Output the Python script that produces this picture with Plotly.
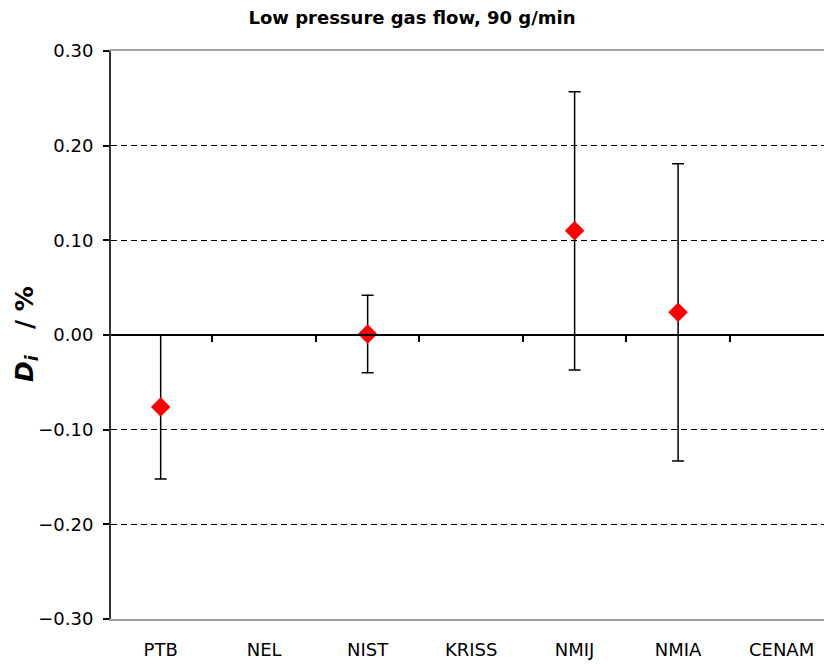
import plotly.graph_objects as go

labels = ["PTB", "NEL", "NIST", "KRISS", "NMIJ", "NMIA", "CENAM"]
di_values = [-0.076, None, 0.001, None, 0.110, 0.024, None]
uncertainty = [0.076, None, 0.041, None, 0.147, 0.157, None]
y_ticks = [-0.30, -0.20, -0.10, 0.00, 0.10, 0.20, 0.30]

FONT = "DejaVu Sans"

fig = go.Figure()

# invisible trace to carry the zero-crossing category axis
fig.add_trace(go.Scatter(x=labels, y=[None] * len(labels), xaxis="x2", yaxis="y",
                         mode="markers", showlegend=False, hoverinfo="skip"))

fig.add_trace(go.Scatter(
    x=labels, y=di_values, mode="markers",
    marker=dict(symbol="diamond", size=15, color="#ff0000", line=dict(width=0)),
    error_y=dict(type="data", array=uncertainty, visible=True,
                 color="#000000", thickness=1.5, width=6),
    showlegend=False,
))

xr = [-0.48, 6.41]

fig.update_layout(
    width=824, height=664,
    margin=dict(l=111, r=0, t=51, b=45, autoexpand=False),
    paper_bgcolor="white", plot_bgcolor="white",
    font=dict(family=FONT, color="#000000"),
    title=dict(text="<b>Low pressure gas flow, 90 g/min</b>",
               font=dict(family=FONT, size=18, color="#000000"),
               x=0.5, xanchor="center", xref="container",
               y=1 - 18 / 664, yanchor="middle"),
    xaxis=dict(type="category", categoryorder="array", categoryarray=labels,
               range=xr, showgrid=False, zeroline=False, automargin=False,
               showline=True, linecolor="#a0a0a0", linewidth=1.5, mirror=True,
               ticks="", ticklabelstandoff=14,
               tickfont=dict(family=FONT, size=18, color="#000000")),
    xaxis2=dict(type="category", categoryorder="array", categoryarray=labels,
                range=xr, overlaying="x", anchor="free", position=0.5,
                showgrid=False, zeroline=False, showline=True, automargin=False,
                linecolor="#000000", linewidth=1.5,
                ticks="outside", ticklen=6, tickwidth=1.5, tickcolor="#000000",
                tickson="boundaries", showticklabels=False),
    yaxis=dict(range=[-0.30, 0.30], tickvals=y_ticks, automargin=False,
               ticktext=[f"{v:.2f}".replace("-", "\u2212") for v in y_ticks],
               showgrid=True, gridcolor="#000000", gridwidth=1, griddash="6px,4px",
               zeroline=False, showline=True, linecolor="#333333", linewidth=2,
               ticks="outside", ticklen=6, tickwidth=1.5, tickcolor="#000000",
               ticklabelstandoff=6,
               tickfont=dict(family=FONT, size=18, color="#000000")),
    annotations=[dict(
        text="<b><i>D<sub>i</sub></i>&nbsp;&nbsp;&nbsp;/&nbsp;%</b>",
        textangle=-90, xref="paper", yref="paper",
        x=(26 - 111) / 713, y=(619 - 334) / 568,
        xanchor="center", yanchor="middle", showarrow=False,
        font=dict(family=FONT, size=25, color="#000000"))],
)

fig.write_html("out.html",
               config={"displayModeBar": False},
               post_script="document.body.style.margin='0';document.body.style.padding='0';")
